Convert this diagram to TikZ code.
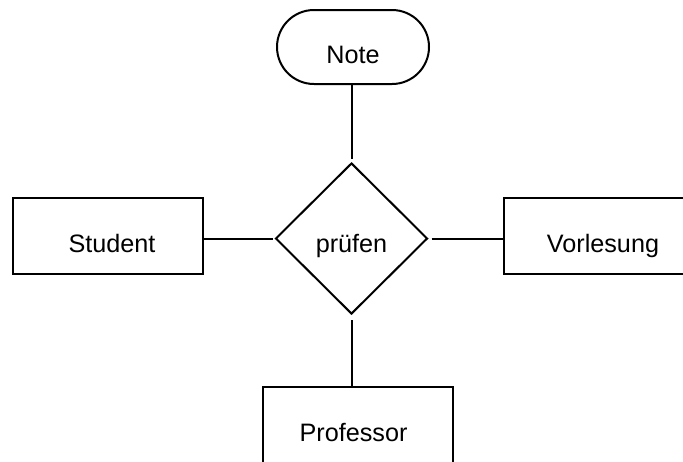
\documentclass[tikz,border=0pt]{standalone}
\usepackage{fontspec}
\setmainfont{Liberation Sans}
\usetikzlibrary{shapes.geometric}
\begin{document}
\begin{tikzpicture}[x=1pt,y=-1pt,
  every node/.style={font=\fontsize{25.2}{29}\selectfont, inner sep=0pt, line width=2pt},
  entity/.style={draw, rectangle, minimum width=190pt, minimum height=76pt, text height=32pt, text depth=0pt},
  attr/.style={draw, rectangle, rounded corners=37pt, minimum width=152pt, minimum height=74pt, text height=32pt, text depth=0pt},
  rel/.style={draw, diamond, minimum width=152pt, minimum height=151pt, text height=27pt, text depth=0pt},
  conn/.style={line width=2pt}]
\useasboundingbox (0,0) rectangle (683,461);
\clip (0,0) rectangle (683,461);
\node[attr] (note) at (353,47) {Note};
\node[rel] (pruefen) at (351.5,238.5) {prüfen};
\node[entity] (student) at (108,236) {\hspace*{8pt}Student};
\node[entity] (vorlesung) at (599,236) {\hspace*{8pt}Vorlesung};
\node[entity] (professor) at (357.5,425) {Professor\hspace*{8pt}};
\draw[conn, shorten >=3pt] (note.south -| pruefen.north) -- (pruefen.north);
\draw[conn, shorten >=2pt] (student.east |- pruefen.west) -- (pruefen.west);
\draw[conn, shorten <=3pt] (pruefen.east) -- (vorlesung.west |- pruefen.east);
\draw[conn, shorten <=5pt] (pruefen.south) -- (professor.north -| pruefen.south);
\end{tikzpicture}
\end{document}
